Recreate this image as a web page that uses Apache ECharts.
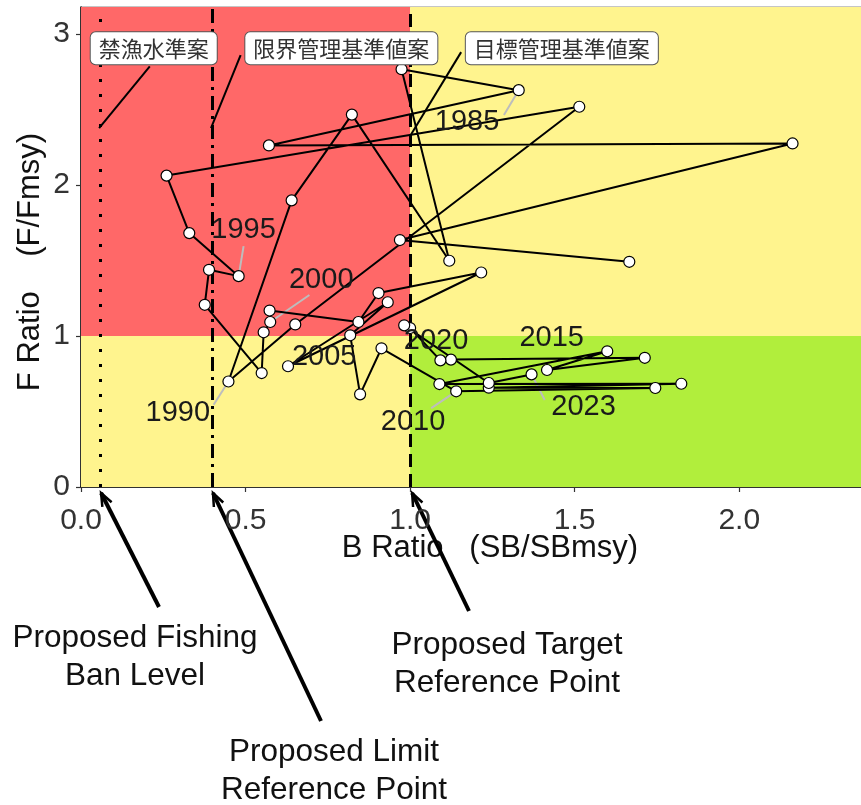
<!DOCTYPE html>
<html>
<head>
<meta charset="utf-8">
<script src="https://cdn.jsdelivr.net/npm/echarts@6/dist/echarts.min.js"></script>
<style>
  html, body { margin: 0; padding: 0; background: #ffffff; }
  #chart { width: 861px; height: 805px; }
</style>
</head>
<body>
<div id="chart"></div>
<script>
// Stock trajectory: spawning biomass ratio (SB/SBmsy) against fishing mortality ratio (F/Fmsy)
const years = [1981, 1982, 1983, 1984, 1985, 1986, 1987, 1988, 1989, 1990,
               1991, 1992, 1993, 1994, 1995, 1996, 1997, 1998, 1999, 2000,
               2001, 2002, 2003, 2004, 2005, 2006, 2007, 2008, 2009, 2010,
               2011, 2012, 2013, 2014, 2015, 2016, 2017, 2018, 2019, 2020,
               2021, 2022, 2023];
const bRatio = [1.666, 0.969, 2.162, 0.571, 1.330, 0.974, 1.119, 0.823, 0.640, 0.448,
                0.651, 1.514, 0.260, 0.329, 0.479, 0.389, 0.376, 0.549, 0.555, 0.575,
                0.573, 0.843, 0.904, 1.216, 0.629, 0.932, 0.818, 0.848, 0.913, 1.140,
                1.745, 1.239, 1.824, 1.089, 1.599, 1.416, 1.713, 1.124, 1.092, 1.000,
                0.982, 1.239, 1.369];
const fRatio = [1.492, 1.636, 2.276, 2.263, 2.629, 2.768, 1.499, 2.467, 1.899, 0.699,
                1.077, 2.519, 2.063, 1.682, 1.397, 1.439, 1.207, 0.755, 1.025, 1.093,
                1.169, 1.093, 1.285, 1.421, 0.800, 1.224, 1.005, 0.614, 0.919, 0.634,
                0.656, 0.658, 0.684, 0.682, 0.899, 0.775, 0.856, 0.844, 0.839, 1.053,
                1.071, 0.689, 0.746];

// Axis ticks
const xTicks = [0, 0.5, 1.0, 1.5, 2.0];
const yTicks = [0, 1, 2, 3];

// Proposed reference points (B ratio)
const banLevel = 0.055;
const limitRef = 0.395;
const targetRef = 1.0;
const fmsyRatio = 1.0;

// Years that carry a text label
const labelledYears = [1985, 1990, 1995, 2000, 2005, 2010, 2015, 2020, 2023];
const refNames = ['禁漁水準案', '限界管理基準値案', '目標管理基準値案'];
const refValues = [banLevel, limitRef, targetRef];

// Layout of annotations (axis units): label centre and leader start
const yearLabelLayout = {
  1985: { at: [1.173, 2.417], from: [1.285, 2.464] },
  1990: { at: [0.294, 0.490], from: [0.403, 0.545] },
  1995: { at: [0.494, 1.702], from: [0.494, 1.596] },
  2000: { at: [0.730, 1.371], from: [0.694, 1.272] },
  2005: { at: [0.739, 0.861], from: null },
  2010: { at: [1.009, 0.430], from: [1.064, 0.523] },
  2015: { at: [1.430, 0.987], from: null },
  2020: { at: [1.079, 0.970], from: null },
  2023: { at: [1.527, 0.530], from: [1.409, 0.576] }
};
const refLabelLayout = [
  { at: [0.221, 2.907], from: [0.209, 2.786], toF: 2.377 },
  { at: [0.791, 2.907], from: [0.485, 2.861], toF: 2.377 },
  { at: [1.461, 2.907], from: [1.155, 2.881], toF: 2.325 }
];

const X_MAX = 2.37;
const Y_MAX = 3.18;
const RED = '#ff6868';
const YELLOW = '#fff48e';
const GREEN = '#b1ee3c';
const FONT = '"Liberation Sans", Arial, sans-serif';

const chart = echarts.init(document.getElementById('chart'), null, { renderer: 'canvas' });

const trajectory = years.map((y, i) => [bRatio[i], fRatio[i]]);
const pointOf = yr => trajectory[years.indexOf(yr)];

const yearLeaders = labelledYears
  .filter(yr => yearLabelLayout[yr].from)
  .map(yr => ({ coords: [yearLabelLayout[yr].from, pointOf(yr)] }));

const refLeaders = refLabelLayout.map((l, i) => ({ coords: [l.from, [refValues[i], l.toF]] }));

chart.setOption({
  animation: false,
  backgroundColor: '#ffffff',
  grid: {
    left: 81, right: -2, top: 7, bottom: 318,
    show: true, borderColor: '#8a8a8a', borderWidth: 1, backgroundColor: 'transparent'
  },
  xAxis: {
    type: 'value', min: 0, max: X_MAX, interval: 0.5,
    axisLine: { show: true, onZero: false, lineStyle: { color: '#000', width: 1.5 } },
    axisTick: { show: true, length: 5, lineStyle: { color: '#333', width: 1.2 } },
    splitLine: { show: false },
    axisLabel: {
      fontSize: 30, color: '#333', margin: 19, fontFamily: FONT, showMaxLabel: false,
      formatter: v => xTicks.some(t => Math.abs(t - v) < 1e-9) ? v.toFixed(1) : ''
    }
  },
  yAxis: {
    type: 'value', min: 0, max: Y_MAX, interval: 1,
    axisLine: { show: true, onZero: false, lineStyle: { color: '#000', width: 1.5 } },
    axisTick: { show: true, length: 5, lineStyle: { color: '#333', width: 1.2 } },
    splitLine: { show: false },
    axisLabel: {
      fontSize: 30, color: '#333', margin: 11, fontFamily: FONT, showMaxLabel: false,
      formatter: v => yTicks.some(t => Math.abs(t - v) < 1e-9) ? String(v) : ''
    }
  },
  series: [
    {
      // Stock status zones
      name: 'zones', type: 'line', data: [], silent: true, z: 1,
      markArea: {
        silent: true,
        data: [
          [{ xAxis: 0, yAxis: fmsyRatio, itemStyle: { color: RED, opacity: 1 } }, { xAxis: targetRef, yAxis: Y_MAX }],
          [{ xAxis: 0, yAxis: 0, itemStyle: { color: YELLOW, opacity: 1 } }, { xAxis: targetRef, yAxis: fmsyRatio }],
          [{ xAxis: targetRef, yAxis: fmsyRatio, itemStyle: { color: YELLOW, opacity: 1 } }, { xAxis: X_MAX, yAxis: Y_MAX }],
          [{ xAxis: targetRef, yAxis: 0, itemStyle: { color: GREEN, opacity: 1 } }, { xAxis: X_MAX, yAxis: fmsyRatio }]
        ]
      }
    },
    {
      // Proposed reference point lines
      name: 'refs', type: 'line', data: [], silent: true, z: 2,
      markLine: {
        silent: true, symbol: 'none', label: { show: false },
        data: [
          { xAxis: banLevel, lineStyle: { color: '#000', width: 3, type: [3, 12], cap: 'butt' } },
          { xAxis: limitRef, lineStyle: { color: '#000', width: 3, type: [14, 6, 3, 6], cap: 'butt' } },
          { xAxis: targetRef, lineStyle: { color: '#000', width: 3, type: [13, 7], cap: 'butt' } }
        ]
      }
    },
    {
      name: 'refLeaders', type: 'lines', coordinateSystem: 'cartesian2d', silent: true, z: 3,
      lineStyle: { color: '#000', width: 2, opacity: 1 },
      data: refLeaders
    },
    {
      name: 'yearLeaders', type: 'lines', coordinateSystem: 'cartesian2d', silent: true, z: 4,
      lineStyle: { color: '#bdbdbd', width: 2, opacity: 1 },
      data: yearLeaders
    },
    {
      name: 'trajectory', type: 'line', z: 5,
      data: trajectory,
      symbol: 'circle', symbolSize: 11, showSymbol: true, showAllSymbol: true,
      itemStyle: { color: '#ffffff', borderColor: '#000', borderWidth: 1.2 },
      lineStyle: { color: '#000', width: 2 }
    },
    {
      name: 'yearLabels', type: 'scatter', z: 6, silent: true,
      symbolSize: 0, itemStyle: { opacity: 1 },
      data: labelledYears.map(yr => ({ value: yearLabelLayout[yr].at, name: String(yr) })),
      label: {
        show: true, position: 'inside', formatter: p => p.name,
        fontSize: 29, color: '#1a1a1a', fontFamily: FONT
      }
    },
    {
      name: 'refLabels', type: 'scatter', z: 7, silent: true,
      symbolSize: 0, itemStyle: { opacity: 1 },
      data: refNames.map((n, i) => ({ value: refLabelLayout[i].at, name: n })),
      label: {
        show: true, position: 'inside', formatter: p => p.name,
        fontSize: 22, color: '#333', fontFamily: '"Noto Sans CJK JP", sans-serif',
        backgroundColor: '#ffffff', borderColor: '#555', borderWidth: 1, borderRadius: 5,
        padding: [5, 8, 5, 8]
      }
    }
  ]
});

// Axis titles and the explanatory arrows below the plot
function arrow(tail, tip) {
  const dx = tip[0] - tail[0], dy = tip[1] - tail[1];
  const a = Math.atan2(dy, dx);
  const len = 14, spread = 0.38;
  const h1 = [tip[0] - len * Math.cos(a - spread), tip[1] - len * Math.sin(a - spread)];
  const h2 = [tip[0] - len * Math.cos(a + spread), tip[1] - len * Math.sin(a + spread)];
  return [
    { type: 'line', shape: { x1: tail[0], y1: tail[1], x2: tip[0], y2: tip[1] },
      style: { stroke: '#000', lineWidth: 4, lineCap: 'butt' } },
    { type: 'polyline', shape: { points: [h1, tip, h2] },
      style: { stroke: '#000', lineWidth: 2.5, fill: null } }
  ];
}

const tipOf = v => {
  const p = chart.convertToPixel({ gridIndex: 0 }, [v, 0]);
  return [p[0] + 2, p[1] + 6];
};

const textStyle = (txt, x, y, size, extra) => Object.assign({
  type: 'text', x: x, y: y,
  style: { text: txt, fontSize: size, fontFamily: FONT, fill: '#111', align: 'center', verticalAlign: 'middle', lineHeight: 38 }
}, extra || {});

chart.setOption({
  graphic: [
    textStyle('B Ratio   (SB/SBmsy)', 490, 548, 31),
    Object.assign(textStyle('F Ratio    (F/Fmsy)', 30, 262, 31), { rotation: Math.PI / 2 }),
    ...arrow([159, 607], tipOf(banLevel)),
    ...arrow([321, 721], tipOf(limitRef)),
    ...arrow([469, 611], tipOf(targetRef)),
    textStyle('Proposed Fishing\nBan Level', 135, 657, 31.5),
    textStyle('Proposed Limit\nReference Point', 334, 771, 31.5),
    textStyle('Proposed Target\nReference Point', 507, 664, 31.5)
  ]
});
</script>
</body>
</html>
